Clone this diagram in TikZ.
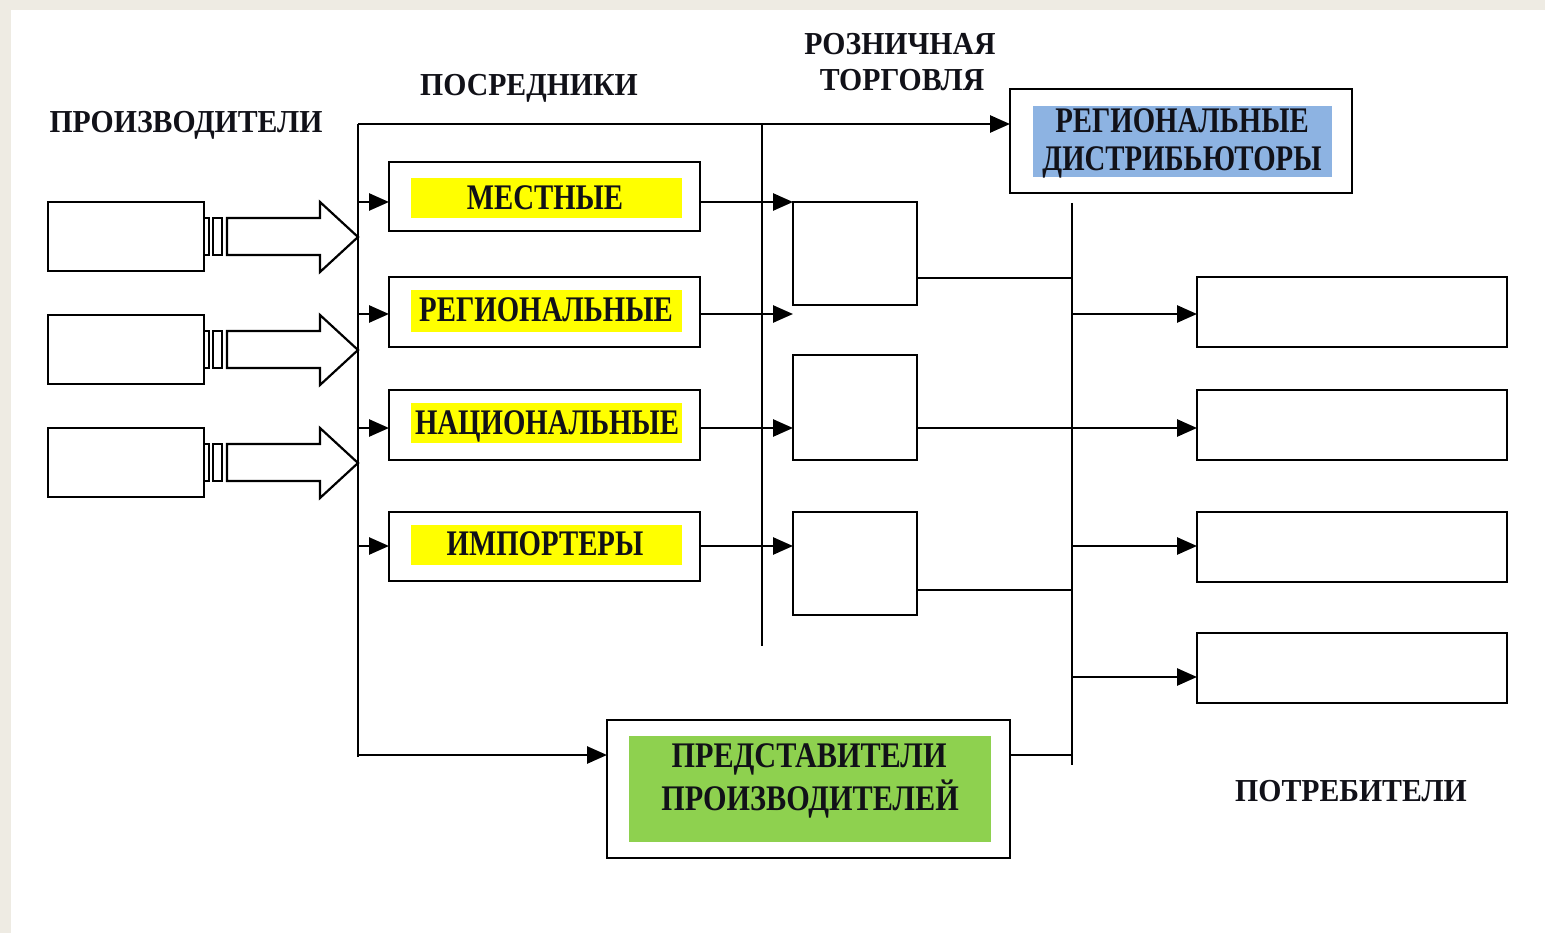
\documentclass[tikz,border=0pt]{standalone}
\usepackage{fontspec}
\setmainfont{Liberation Serif}[FakeStretch=0.8]
\newfontfamily\hdfont{Liberation Serif}[FakeStretch=0.93]
\newfontfamily\rpfont{Liberation Serif}[FakeStretch=0.84]
\usetikzlibrary{arrows.meta}
\definecolor{bgc}{HTML}{EEEBE3}
\definecolor{hlyellow}{HTML}{FFFF00}
\definecolor{hlblue}{HTML}{8DB3E2}
\definecolor{hlgreen}{HTML}{8ED14F}
\definecolor{txt}{HTML}{111118}
\begin{document}
\begin{tikzpicture}[x=1pt,y=-1pt,
  ln/.style={line width=2.6pt},
  arr/.style={ln,-{Triangle[length=20pt,width=17pt]}},
  box/.style={draw,ln,fill=white,inner sep=0,outer sep=0,anchor=north west},
  hl/.style={inner sep=0,outer sep=0,anchor=north west},
  hd/.style={font=\hdfont\bfseries\fontsize{32}{36}\selectfont,text=txt,inner sep=0,anchor=base},
  bl/.style={font=\bfseries\fontsize{36}{40}\selectfont,text=txt,inner sep=0,anchor=base},
  rl/.style={font=\rpfont\bfseries\fontsize{36}{40}\selectfont,text=txt,inner sep=0,anchor=base}]
\fill[bgc] (0,0) rectangle (1545,933);
\fill[white] (11,10) rectangle (1545,933);
\useasboundingbox (0,0) rectangle (1545,933);

% headings
\node[hd] (hprod) at (186,133) {ПРОИЗВОДИТЕЛИ};
\node[hd] (hmid) at (529,96) {ПОСРЕДНИКИ};
\node[hd] (hret1) at (900,55) {РОЗНИЧНАЯ};
\node[hd] (hret2) at (902,91) {ТОРГОВЛЯ};
\node[hd] (hcons) at (1351,801) {ПОТРЕБИТЕЛИ};

% producers
\node[box,minimum width=156pt,minimum height=69pt] (p1) at (48,202) {};
\node[box,minimum width=156pt,minimum height=69pt] (p2) at (48,315) {};
\node[box,minimum width=156pt,minimum height=69pt] (p3) at (48,428) {};
\foreach \cy in {237,350,463}{
  \draw[line width=2.2pt,fill=white] (204,\cy-19) rectangle (209,\cy+18);
  \draw[line width=2.2pt,fill=white] (213,\cy-19) rectangle (222,\cy+18);
  \draw[line width=2.2pt,fill=white,line join=miter] (227,\cy-19) -- (320,\cy-19) -- (320,\cy-35) -- (358,\cy)
     -- (320,\cy+35) -- (320,\cy+18) -- (227,\cy+18) -- cycle;
}

% intermediaries
\node[box,minimum width=311pt,minimum height=69pt] (m1) at (389,162) {};
\node[box,minimum width=311pt,minimum height=70pt] (m2) at (389,277) {};
\node[box,minimum width=311pt,minimum height=70pt] (m3) at (389,390) {};
\node[box,minimum width=311pt,minimum height=69pt] (m4) at (389,512) {};
\node[hl,fill=hlyellow,minimum width=271pt,minimum height=40pt] (y1) at (411,178) {};
\node[hl,fill=hlyellow,minimum width=271pt,minimum height=42pt] (y2) at (411,290) {};
\node[hl,fill=hlyellow,minimum width=271pt,minimum height=40pt] (y3) at (411,403) {};
\node[hl,fill=hlyellow,minimum width=271pt,minimum height=40pt] (y4) at (411,525) {};
\node[bl] (tm1) at (545,210) {МЕСТНЫЕ};
\node[bl] (tm2) at (546,322) {РЕГИОНАЛЬНЫЕ};
\node[bl] (tm3) at (547,434) {НАЦИОНАЛЬНЫЕ};
\node[bl] (tm4) at (545,555) {ИМПОРТЕРЫ};

% retail
\node[box,minimum width=124pt,minimum height=103pt] (r1) at (793,202) {};
\node[box,minimum width=124pt,minimum height=105pt] (r2) at (793,355) {};
\node[box,minimum width=124pt,minimum height=103pt] (r3) at (793,512) {};

% regional distributors
\node[box,minimum width=342pt,minimum height=104pt] (rd) at (1010,89) {};
\node[hl,fill=hlblue,minimum width=299pt,minimum height=71pt] (bluehl) at (1033,106) {};
\node[bl] (trd1) at (1182,133) {РЕГИОНАЛЬНЫЕ};
\node[bl] (trd2) at (1182,171) {ДИСТРИБЬЮТОРЫ};

% producers' representatives
\node[box,minimum width=403pt,minimum height=138pt] (rp) at (607,720) {};
\node[hl,fill=hlgreen,minimum width=362pt,minimum height=106pt] (greenhl) at (629,736) {};
\node[rl] (trp1) at (809,767) {ПРЕДСТАВИТЕЛИ};
\node[rl] (trp2) at (810,810) {ПРОИЗВОДИТЕЛЕЙ};

% consumers
\node[box,minimum width=310pt,minimum height=70pt] (k1) at (1197,277) {};
\node[box,minimum width=310pt,minimum height=70pt] (k2) at (1197,390) {};
\node[box,minimum width=310pt,minimum height=70pt] (k3) at (1197,512) {};
\node[box,minimum width=310pt,minimum height=70pt] (k4) at (1197,633) {};

% bus 1
\coordinate (b1top) at (358,124);
\coordinate (b1bot) at (358,757);
\coordinate (b1r) at (358,755);
\draw[ln] (b1top) -- (b1bot);
\draw[arr] (b1top) -- (b1top -| rd.west);
\draw[arr] (b1r) -- (b1r -| rp.west);
\coordinate (t1) at (358,202);
\coordinate (t2) at (358,314);
\coordinate (t3) at (358,428);
\coordinate (t4) at (358,546);
\draw[arr] (t1) -- (t1 -| m1.west);
\draw[arr] (t2) -- (t2 -| m2.west);
\draw[arr] (t3) -- (t3 -| m3.west);
\draw[arr] (t4) -- (t4 -| m4.west);

% bus 2
\coordinate (b2top) at (762,124);
\coordinate (b2bot) at (762,646);
\draw[ln] (b2top) -- (b2bot);
\draw[arr] (t1 -| m1.east) -- (t1 -| r1.west);
\draw[arr] (t2 -| m2.east) -- (t2 -| r1.west);
\draw[arr] (t3 -| m3.east) -- (t3 -| r2.west);
\draw[arr] (t4 -| m4.east) -- (t4 -| r3.west);

% bus 3
\coordinate (b3top) at (1072,203);
\coordinate (b3bot) at (1072,765);
\draw[ln] (b3top) -- (b3bot);
\coordinate (c1) at (1072,278);
\coordinate (c2) at (1072,428);
\coordinate (c3) at (1072,590);
\coordinate (c4) at (1072,755);
\draw[ln] (c1 -| r1.east) -- (c1);
\draw[arr] (c2 -| r2.east) -- (c2 -| k2.west);
\draw[ln] (c3 -| r3.east) -- (c3);
\draw[ln] (c4 -| rp.east) -- (c4);
\coordinate (u1) at (1072,314);
\coordinate (u3) at (1072,546);
\coordinate (u4) at (1072,677);
\draw[arr] (u1) -- (u1 -| k1.west);
\draw[arr] (u3) -- (u3 -| k3.west);
\draw[arr] (u4) -- (u4 -| k4.west);
\end{tikzpicture}
\end{document}
